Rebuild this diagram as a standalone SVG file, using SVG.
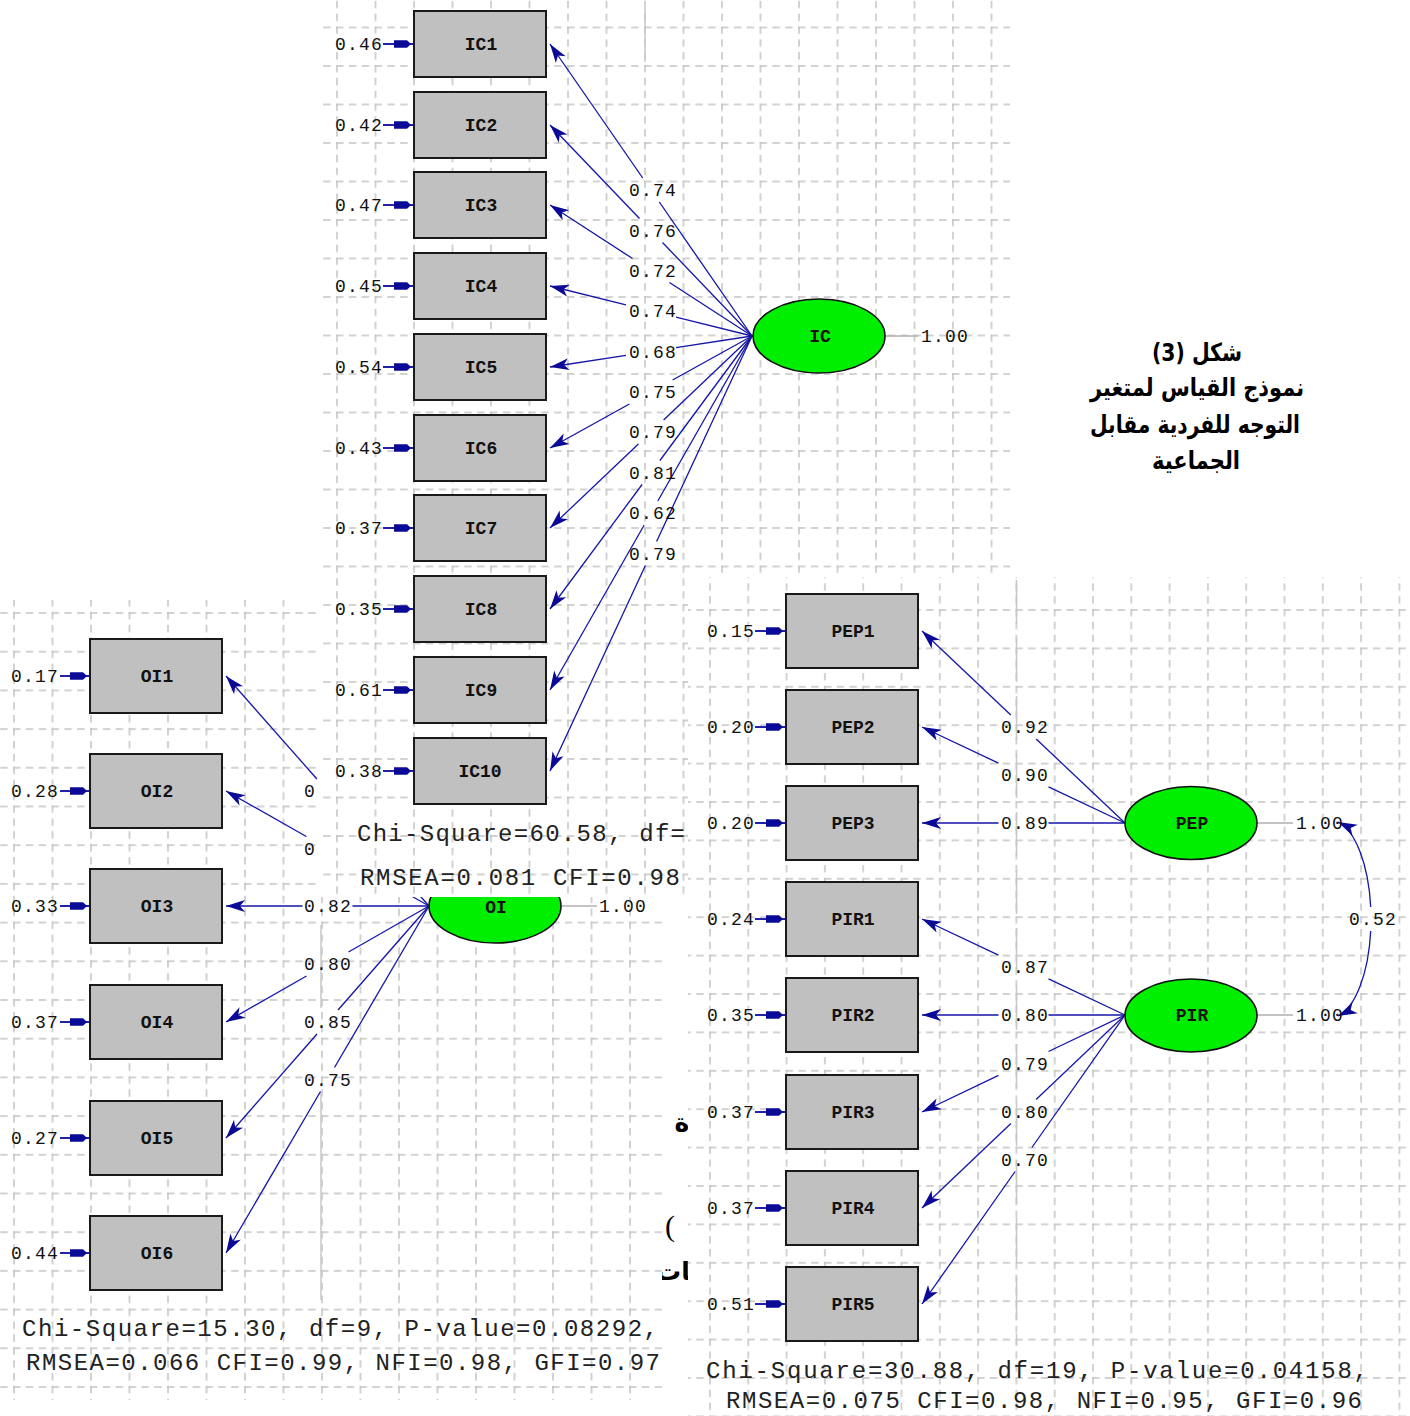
<svg xmlns="http://www.w3.org/2000/svg" width="1410" height="1416" viewBox="0 0 1410 1416">
<style>
.bg{fill:#fff}
.box{fill:#c0c0c0;stroke:#1a1a1a;stroke-width:2}
.lat{fill:#00ee00;stroke:#111;stroke-width:1.6}
.ld{stroke:#1515a8;stroke-width:1.3;fill:none}
.er{stroke:#0a0aa0;stroke-width:1.8}
.gl{stroke:#b0b0b0;stroke-width:1.5}
.sg{stroke:#c8c8c8;stroke-width:1.5}
.num{font-family:"Liberation Mono",monospace;font-size:18px;fill:#111;letter-spacing:1.2px}
.nm{font-family:"Liberation Mono",monospace;font-size:18px;font-weight:bold;fill:#111}
.fit{font-family:"Liberation Mono",monospace;font-size:24px;fill:#222}
.ar{font-family:"DejaVu Sans","Liberation Sans",sans-serif;font-weight:bold;font-size:25px;fill:#000}
</style>
<defs>
<pattern id="gIC" patternUnits="userSpaceOnUse" x="336" y="26.5" width="38.5" height="38.5">
<path d="M0,1 H38.5 M1,0 V38.5" stroke="#c4c4c4" stroke-width="1.5" stroke-dasharray="7.5,5.33" fill="none"/>
</pattern>
<pattern id="gOI" patternUnits="userSpaceOnUse" x="13" y="612" width="38.5" height="38.7">
<path d="M0,1 H38.5 M1,0 V38.7" stroke="#c4c4c4" stroke-width="1.5" stroke-dasharray="7.5,5.33" fill="none"/>
</pattern>
<pattern id="gPEP" patternUnits="userSpaceOnUse" x="709" y="609" width="38.3" height="38.4">
<path d="M0,1 H38.3 M1,0 V38.4" stroke="#c4c4c4" stroke-width="1.5" stroke-dasharray="7.5,5.27" fill="none"/>
</pattern>
<marker id="ah" markerUnits="userSpaceOnUse" markerWidth="24" markerHeight="16" viewBox="-22 -8 24 16" refX="0" refY="0" orient="auto">
<path d="M0,0 L-19,-6 L-14,0 L-19,6 Z" fill="#0a0a96"/>
</marker>
<marker id="eh" markerUnits="userSpaceOnUse" markerWidth="24" markerHeight="10" viewBox="-22 -5 24 10" refX="0" refY="0" orient="auto">
<path d="M-2,0 L-6,-3.8 L-19,-3.8 L-19,3.8 L-6,3.8 Z" fill="#0a0a96"/>
</marker>
</defs>
<rect class="bg" x="0" y="0" width="1410" height="1416"/>

<!-- stray page fragments -->
<g id="page-fragments">
<text class="ar" x="682" y="1131" text-anchor="middle" font-size="26">ة</text>
<text x="665" y="1236" font-family="Liberation Serif,serif" font-size="30" fill="#000">(</text>
<text class="ar" x="700" y="1280" text-anchor="end" font-size="22">نات</text>
</g>

<!-- ============ OI panel ============ -->
<g id="panel-oi">
<rect class="bg" x="0" y="600" width="662" height="800"/>
<rect x="0" y="600" width="662" height="800" fill="url(#gOI)"/>
<line class="sg" x1="321" y1="925" x2="321" y2="1008"/>
<line class="sg" x1="321" y1="1092" x2="321" y2="1300"/>
<g id="oi-connectors">
<path class="ld" d="M429,906 L338.1,803"/><path class="ld" d="M316.9,779 L226,676" marker-end="url(#ah)"/>
<path class="ld" d="M429,906 L348.7,860.5"/><path class="ld" d="M306.3,836.5 L226,791" marker-end="url(#ah)"/>
<path class="ld" d="M429,906 L352.5,906"/><path class="ld" d="M302.5,906 L226,906" marker-end="url(#ah)"/>
<path class="ld" d="M429,906 L348.5,952"/><path class="ld" d="M306.5,976 L226,1022" marker-end="url(#ah)"/>
<path class="ld" d="M429,906 L338,1010"/><path class="ld" d="M317,1034 L226,1138" marker-end="url(#ah)"/>
<path class="ld" d="M429,906 L334.5,1067.5"/><path class="ld" d="M320.5,1091.5 L226,1253" marker-end="url(#ah)"/>
<line class="er" x1="60" y1="676" x2="89" y2="676" marker-end="url(#eh)"/>
<line class="er" x1="60" y1="791" x2="89" y2="791" marker-end="url(#eh)"/>
<line class="er" x1="60" y1="906" x2="89" y2="906" marker-end="url(#eh)"/>
<line class="er" x1="60" y1="1022" x2="89" y2="1022" marker-end="url(#eh)"/>
<line class="er" x1="60" y1="1138" x2="89" y2="1138" marker-end="url(#eh)"/>
<line class="er" x1="60" y1="1253" x2="89" y2="1253" marker-end="url(#eh)"/>
<line class="gl" x1="562" y1="906" x2="597" y2="906"/>
<text class="num" x="304" y="797">0</text>
<text class="num" x="304" y="855">0</text>
<text class="num" x="328" y="912" text-anchor="middle">0.82</text>
<text class="num" x="328" y="970" text-anchor="middle">0.80</text>
<text class="num" x="328" y="1028" text-anchor="middle">0.85</text>
<text class="num" x="328" y="1086" text-anchor="middle">0.75</text>
</g>
<g id="OI"><ellipse class="lat" cx="495" cy="906" rx="66" ry="37"/><text class="nm" x="496" y="913" text-anchor="middle">OI</text><text class="num" x="599" y="912">1.00</text></g>
<g id="OI1"><rect class="box" x="90" y="639" width="132" height="74"/><text class="nm" x="157" y="682" text-anchor="middle">OI1</text><text class="num" x="59" y="682" text-anchor="end">0.17</text></g>
<g id="OI2"><rect class="box" x="90" y="754" width="132" height="74"/><text class="nm" x="157" y="797" text-anchor="middle">OI2</text><text class="num" x="59" y="797" text-anchor="end">0.28</text></g>
<g id="OI3"><rect class="box" x="90" y="869" width="132" height="74"/><text class="nm" x="157" y="912" text-anchor="middle">OI3</text><text class="num" x="59" y="912" text-anchor="end">0.33</text></g>
<g id="OI4"><rect class="box" x="90" y="985" width="132" height="74"/><text class="nm" x="157" y="1028" text-anchor="middle">OI4</text><text class="num" x="59" y="1028" text-anchor="end">0.37</text></g>
<g id="OI5"><rect class="box" x="90" y="1101" width="132" height="74"/><text class="nm" x="157" y="1144" text-anchor="middle">OI5</text><text class="num" x="59" y="1144" text-anchor="end">0.27</text></g>
<g id="OI6"><rect class="box" x="90" y="1216" width="132" height="74"/><text class="nm" x="157" y="1259" text-anchor="middle">OI6</text><text class="num" x="59" y="1259" text-anchor="end">0.44</text></g>
<text class="fit" x="22" y="1336" textLength="636" lengthAdjust="spacing">Chi-Square=15.30, df=9, P-value=0.08292,</text>
<text class="fit" x="26" y="1370" textLength="634" lengthAdjust="spacing">RMSEA=0.066 CFI=0.99, NFI=0.98, GFI=0.97</text>
</g>

<!-- ============ IC panel ============ -->
<g id="panel-ic">
<rect class="bg" x="318" y="0" width="692" height="897"/>
<rect x="318" y="0" width="692" height="897" fill="url(#gIC)"/>
<line class="sg" x1="645" y1="8" x2="645" y2="62"/>
<g id="ic-connectors">
<path class="ld" d="M752,336 L659.3,202"/><path class="ld" d="M642.7,178 L550,44" marker-end="url(#ah)"/>
<path class="ld" d="M752,336 L662.5,242.5"/><path class="ld" d="M639.5,218.5 L550,125" marker-end="url(#ah)"/>
<path class="ld" d="M752,336 L669.5,282.5"/><path class="ld" d="M632.5,258.5 L550,205" marker-end="url(#ah)"/>
<path class="ld" d="M752,336 L676,317.2"/><path class="ld" d="M626,304.8 L550,286" marker-end="url(#ah)"/>
<path class="ld" d="M752,336 L676,347.7"/><path class="ld" d="M626,355.3 L550,367" marker-end="url(#ah)"/>
<path class="ld" d="M752,336 L672.6,380"/><path class="ld" d="M629.4,404 L550,448" marker-end="url(#ah)"/>
<path class="ld" d="M752,336 L663.6,420"/><path class="ld" d="M638.4,444 L550,528" marker-end="url(#ah)"/>
<path class="ld" d="M752,336 L659.9,460.5"/><path class="ld" d="M642.1,484.5 L550,609" marker-end="url(#ah)"/>
<path class="ld" d="M752,336 L657.8,501"/><path class="ld" d="M644.2,525 L550,690" marker-end="url(#ah)"/>
<path class="ld" d="M752,336 L656.6,541.5"/><path class="ld" d="M645.4,565.5 L550,771" marker-end="url(#ah)"/>
<line class="er" x1="383" y1="44" x2="413" y2="44" marker-end="url(#eh)"/>
<line class="er" x1="383" y1="125" x2="413" y2="125" marker-end="url(#eh)"/>
<line class="er" x1="383" y1="205" x2="413" y2="205" marker-end="url(#eh)"/>
<line class="er" x1="383" y1="286" x2="413" y2="286" marker-end="url(#eh)"/>
<line class="er" x1="383" y1="367" x2="413" y2="367" marker-end="url(#eh)"/>
<line class="er" x1="383" y1="448" x2="413" y2="448" marker-end="url(#eh)"/>
<line class="er" x1="383" y1="528" x2="413" y2="528" marker-end="url(#eh)"/>
<line class="er" x1="383" y1="609" x2="413" y2="609" marker-end="url(#eh)"/>
<line class="er" x1="383" y1="690" x2="413" y2="690" marker-end="url(#eh)"/>
<line class="er" x1="383" y1="771" x2="413" y2="771" marker-end="url(#eh)"/>
<line class="gl" x1="885" y1="336" x2="918" y2="336"/>
<text class="num" x="653" y="196" text-anchor="middle">0.74</text>
<text class="num" x="653" y="236.5" text-anchor="middle">0.76</text>
<text class="num" x="653" y="276.5" text-anchor="middle">0.72</text>
<text class="num" x="653" y="317" text-anchor="middle">0.74</text>
<text class="num" x="653" y="357.5" text-anchor="middle">0.68</text>
<text class="num" x="653" y="398" text-anchor="middle">0.75</text>
<text class="num" x="653" y="438" text-anchor="middle">0.79</text>
<text class="num" x="653" y="478.5" text-anchor="middle">0.81</text>
<text class="num" x="653" y="519" text-anchor="middle">0.62</text>
<text class="num" x="653" y="559.5" text-anchor="middle">0.79</text>
</g>
<g id="IC"><ellipse class="lat" cx="819" cy="336" rx="66" ry="37"/><text class="nm" x="820" y="342" text-anchor="middle">IC</text><text class="num" x="921" y="342">1.00</text></g>
<g id="IC1"><rect class="box" x="414" y="11" width="132" height="66"/><text class="nm" x="481" y="50" text-anchor="middle">IC1</text><text class="num" x="383" y="50" text-anchor="end">0.46</text></g>
<g id="IC2"><rect class="box" x="414" y="92" width="132" height="66"/><text class="nm" x="481" y="131" text-anchor="middle">IC2</text><text class="num" x="383" y="131" text-anchor="end">0.42</text></g>
<g id="IC3"><rect class="box" x="414" y="172" width="132" height="66"/><text class="nm" x="481" y="211" text-anchor="middle">IC3</text><text class="num" x="383" y="211" text-anchor="end">0.47</text></g>
<g id="IC4"><rect class="box" x="414" y="253" width="132" height="66"/><text class="nm" x="481" y="292" text-anchor="middle">IC4</text><text class="num" x="383" y="292" text-anchor="end">0.45</text></g>
<g id="IC5"><rect class="box" x="414" y="334" width="132" height="66"/><text class="nm" x="481" y="373" text-anchor="middle">IC5</text><text class="num" x="383" y="373" text-anchor="end">0.54</text></g>
<g id="IC6"><rect class="box" x="414" y="415" width="132" height="66"/><text class="nm" x="481" y="454" text-anchor="middle">IC6</text><text class="num" x="383" y="454" text-anchor="end">0.43</text></g>
<g id="IC7"><rect class="box" x="414" y="495" width="132" height="66"/><text class="nm" x="481" y="534" text-anchor="middle">IC7</text><text class="num" x="383" y="534" text-anchor="end">0.37</text></g>
<g id="IC8"><rect class="box" x="414" y="576" width="132" height="66"/><text class="nm" x="481" y="615" text-anchor="middle">IC8</text><text class="num" x="383" y="615" text-anchor="end">0.35</text></g>
<g id="IC9"><rect class="box" x="414" y="657" width="132" height="66"/><text class="nm" x="481" y="696" text-anchor="middle">IC9</text><text class="num" x="383" y="696" text-anchor="end">0.61</text></g>
<g id="IC10"><rect class="box" x="414" y="738" width="132" height="66"/><text class="nm" x="480" y="777" text-anchor="middle">IC10</text><text class="num" x="383" y="777" text-anchor="end">0.38</text></g>
<text class="fit" x="357" y="841" textLength="328" lengthAdjust="spacing">Chi-Square=60.58, df=</text>
<text class="fit" x="360" y="885" textLength="320" lengthAdjust="spacing">RMSEA=0.081 CFI=0.98</text>
</g>

<!-- ============ PEP / PIR panel ============ -->
<g id="panel-pep">
<rect class="bg" x="688" y="577" width="722" height="839"/>
<rect x="688" y="577" width="722" height="839" fill="url(#gPEP)"/>
<line class="sg" x1="1016.5" y1="580" x2="1016.5" y2="1345" stroke-dasharray="44,14"/>
<g id="pep-connectors">
<path class="ld" d="M1125,823 L1036.2,739"/><path class="ld" d="M1010.8,715 L922,631" marker-end="url(#ah)"/>
<path class="ld" d="M1125,823 L1048.5,786.8"/><path class="ld" d="M998.5,763.2 L922,727" marker-end="url(#ah)"/>
<path class="ld" d="M1125,823 L1048.5,823"/><path class="ld" d="M998.5,823 L922,823" marker-end="url(#ah)"/>
<path class="ld" d="M1125,1015 L1048.5,978.8"/><path class="ld" d="M998.5,955.2 L922,919" marker-end="url(#ah)"/>
<path class="ld" d="M1125,1015 L1048.5,1015"/><path class="ld" d="M998.5,1015 L922,1015" marker-end="url(#ah)"/>
<path class="ld" d="M1125,1015 L1048.5,1051.5"/><path class="ld" d="M998.5,1075.4 L922,1112" marker-end="url(#ah)"/>
<path class="ld" d="M1125,1015 L1036.1,1099.5"/><path class="ld" d="M1010.9,1123.5 L922,1208" marker-end="url(#ah)"/>
<path class="ld" d="M1125,1015 L1031.9,1147.5"/><path class="ld" d="M1015.1,1171.5 L922,1304" marker-end="url(#ah)"/>
<path class="ld" d="M1370.7,907 A41,99 0 0 0 1338,822" marker-end="url(#ah)"/>
<path class="ld" d="M1370.7,931 A41,99 0 0 1 1338,1016" marker-end="url(#ah)"/>
<line class="er" x1="755" y1="631" x2="785" y2="631" marker-end="url(#eh)"/>
<line class="er" x1="755" y1="727" x2="785" y2="727" marker-end="url(#eh)"/>
<line class="er" x1="755" y1="823" x2="785" y2="823" marker-end="url(#eh)"/>
<line class="er" x1="755" y1="919" x2="785" y2="919" marker-end="url(#eh)"/>
<line class="er" x1="755" y1="1015" x2="785" y2="1015" marker-end="url(#eh)"/>
<line class="er" x1="755" y1="1112" x2="785" y2="1112" marker-end="url(#eh)"/>
<line class="er" x1="755" y1="1208" x2="785" y2="1208" marker-end="url(#eh)"/>
<line class="er" x1="755" y1="1304" x2="785" y2="1304" marker-end="url(#eh)"/>
<line class="gl" x1="1257" y1="823" x2="1293" y2="823"/>
<line class="gl" x1="1257" y1="1015" x2="1293" y2="1015"/>
<text class="num" x="1025" y="733" text-anchor="middle">0.92</text>
<text class="num" x="1025" y="781" text-anchor="middle">0.90</text>
<text class="num" x="1025" y="829" text-anchor="middle">0.89</text>
<text class="num" x="1025" y="973" text-anchor="middle">0.87</text>
<text class="num" x="1025" y="1021" text-anchor="middle">0.80</text>
<text class="num" x="1025" y="1069.5" text-anchor="middle">0.79</text>
<text class="num" x="1025" y="1117.5" text-anchor="middle">0.80</text>
<text class="num" x="1025" y="1165.5" text-anchor="middle">0.70</text>
<text class="num" x="1373" y="925" text-anchor="middle">0.52</text>
</g>
<g id="PEP"><ellipse class="lat" cx="1191" cy="823" rx="66" ry="36.5"/><text class="nm" x="1192" y="829" text-anchor="middle">PEP</text><text class="num" x="1296" y="829">1.00</text></g>
<g id="PIR"><ellipse class="lat" cx="1191" cy="1015.5" rx="66" ry="36.5"/><text class="nm" x="1192" y="1021" text-anchor="middle">PIR</text><text class="num" x="1296" y="1021">1.00</text></g>
<g id="PEP1"><rect class="box" x="786" y="594" width="132" height="74"/><text class="nm" x="853" y="637" text-anchor="middle">PEP1</text><text class="num" x="755" y="637" text-anchor="end">0.15</text></g>
<g id="PEP2"><rect class="box" x="786" y="690" width="132" height="74"/><text class="nm" x="853" y="733" text-anchor="middle">PEP2</text><text class="num" x="755" y="733" text-anchor="end">0.20</text></g>
<g id="PEP3"><rect class="box" x="786" y="786" width="132" height="74"/><text class="nm" x="853" y="829" text-anchor="middle">PEP3</text><text class="num" x="755" y="829" text-anchor="end">0.20</text></g>
<g id="PIR1"><rect class="box" x="786" y="882" width="132" height="74"/><text class="nm" x="853" y="925" text-anchor="middle">PIR1</text><text class="num" x="755" y="925" text-anchor="end">0.24</text></g>
<g id="PIR2"><rect class="box" x="786" y="978" width="132" height="74"/><text class="nm" x="853" y="1021" text-anchor="middle">PIR2</text><text class="num" x="755" y="1021" text-anchor="end">0.35</text></g>
<g id="PIR3"><rect class="box" x="786" y="1075" width="132" height="74"/><text class="nm" x="853" y="1118" text-anchor="middle">PIR3</text><text class="num" x="755" y="1118" text-anchor="end">0.37</text></g>
<g id="PIR4"><rect class="box" x="786" y="1171" width="132" height="74"/><text class="nm" x="853" y="1214" text-anchor="middle">PIR4</text><text class="num" x="755" y="1214" text-anchor="end">0.37</text></g>
<g id="PIR5"><rect class="box" x="786" y="1267" width="132" height="74"/><text class="nm" x="853" y="1310" text-anchor="middle">PIR5</text><text class="num" x="755" y="1310" text-anchor="end">0.51</text></g>
<text class="fit" x="706" y="1378" textLength="662" lengthAdjust="spacing">Chi-Square=30.88, df=19, P-value=0.04158,</text>
<text class="fit" x="726" y="1408" textLength="636" lengthAdjust="spacing">RMSEA=0.075 CFI=0.98, NFI=0.95, GFI=0.96</text>
</g>

<!-- ============ caption ============ -->
<g id="caption">
<text class="ar" x="1152" y="361" textLength="90" lengthAdjust="spacingAndGlyphs" direction="rtl" text-anchor="end">شكل (3)</text>
<text class="ar" x="1090" y="396" textLength="214" lengthAdjust="spacingAndGlyphs" direction="rtl" text-anchor="end">نموذج القياس لمتغير</text>
<text class="ar" x="1090" y="433" textLength="210" lengthAdjust="spacingAndGlyphs" direction="rtl" text-anchor="end">التوجه للفردية مقابل</text>
<text class="ar" x="1152" y="469" textLength="88" lengthAdjust="spacingAndGlyphs" direction="rtl" text-anchor="end">الجماعية</text>
</g>
</svg>
